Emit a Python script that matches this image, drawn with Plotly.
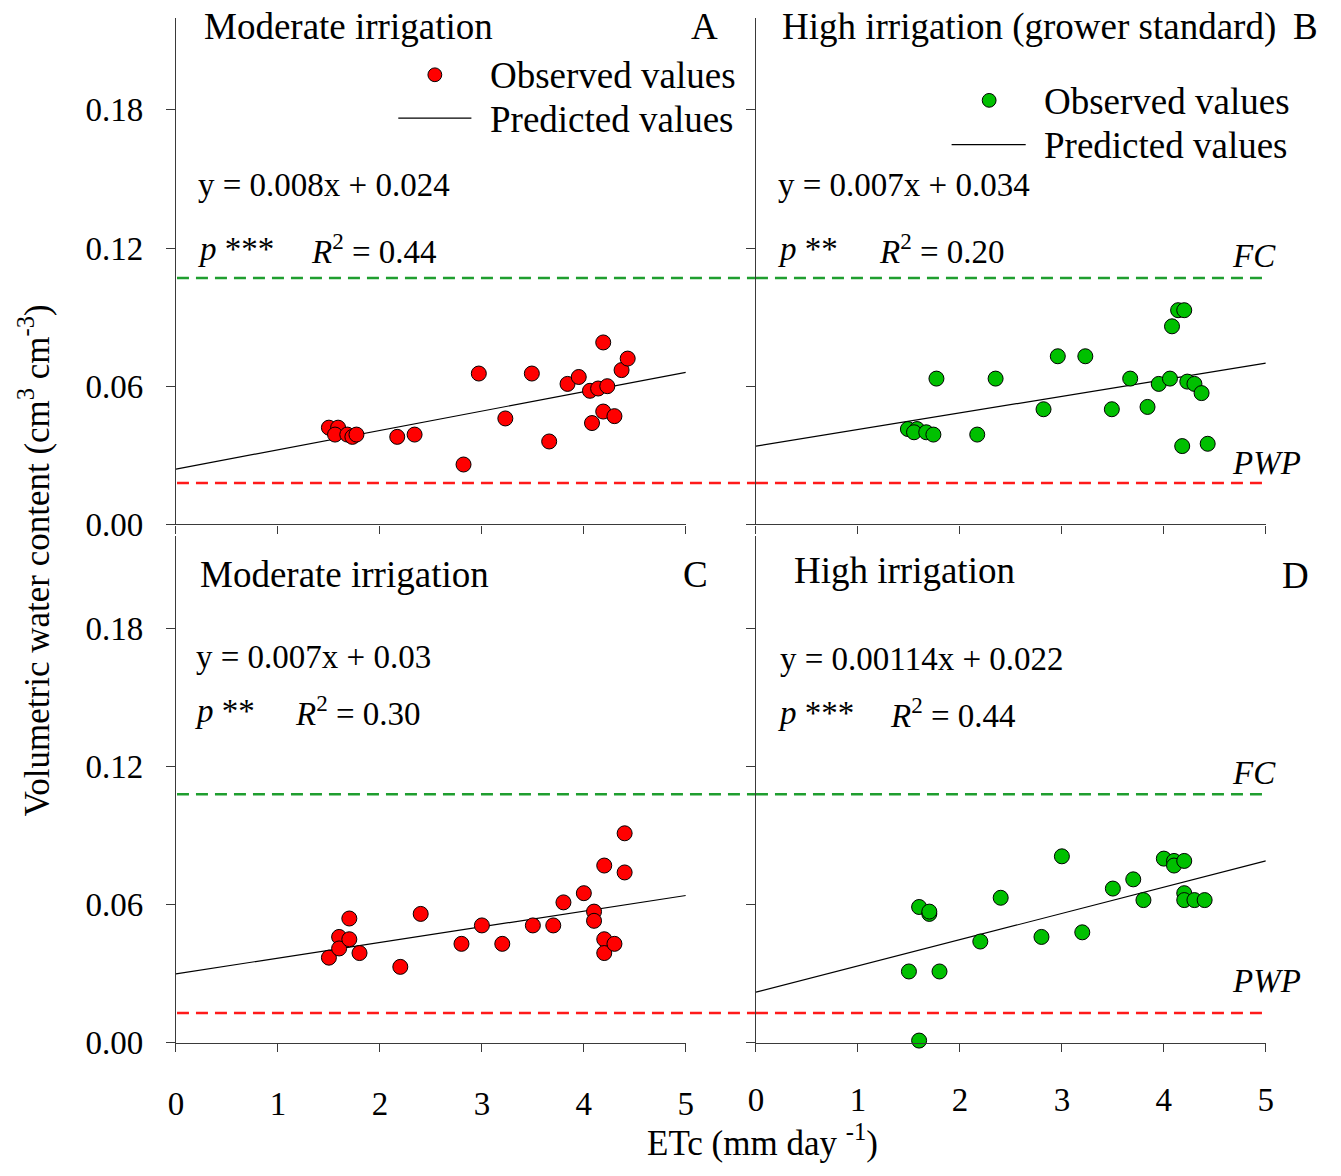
import plotly.graph_objects as go

W, H = 1341, 1176

# ---------------- data ----------------
etc_A = [1.50, 1.59, 1.56, 1.68, 1.73, 1.77, 2.17, 2.34, 2.82, 2.97, 3.23, 3.49,
         3.66, 3.84, 3.95, 4.06, 4.14, 4.23, 4.19, 4.19, 4.08, 4.30, 4.37, 4.43]
vwc_A = [0.042, 0.042, 0.039, 0.039, 0.038, 0.039, 0.038, 0.039, 0.026, 0.0655, 0.046, 0.0655,
         0.036, 0.061, 0.064, 0.058, 0.059, 0.060, 0.079, 0.049, 0.044, 0.047, 0.067, 0.072]

etc_B = [1.49, 1.58, 1.55, 1.67, 1.74, 1.77, 2.17, 2.35, 2.82, 2.96, 3.23, 3.49,
         3.67, 3.84, 3.95, 4.06, 4.08, 4.14, 4.20, 4.23, 4.30, 4.37, 4.18, 4.43]
vwc_B = [0.0414, 0.0414, 0.040, 0.040, 0.039, 0.0633, 0.039, 0.0633, 0.050, 0.073, 0.073, 0.050,
         0.0633, 0.051, 0.061, 0.0633, 0.086, 0.093, 0.093, 0.062, 0.061, 0.057, 0.034, 0.035]

etc_C = [1.50, 1.60, 1.60, 1.70, 1.70, 1.80, 2.20, 2.40, 2.80, 3.00, 3.20, 3.50,
         3.70, 3.80, 4.00, 4.10, 4.10, 4.20, 4.20, 4.20, 4.30, 4.40, 4.40]
vwc_C = [0.037, 0.046, 0.041, 0.054, 0.045, 0.039, 0.033, 0.056, 0.043, 0.051, 0.043, 0.051,
         0.051, 0.061, 0.065, 0.057, 0.053, 0.077, 0.045, 0.039, 0.043, 0.091, 0.074]

etc_D = [1.50, 1.60, 1.70, 1.70, 1.80, 1.60, 2.20, 2.40, 2.80, 3.00, 3.20, 3.50,
         3.70, 3.80, 4.00, 4.10, 4.10, 4.20, 4.20, 4.20, 4.30, 4.40]
vwc_D = [0.031, 0.059, 0.056, 0.057, 0.031, 0.001, 0.044, 0.063, 0.046, 0.081, 0.048, 0.067,
         0.071, 0.062, 0.080, 0.079, 0.077, 0.079, 0.065, 0.062, 0.062, 0.062]

etc_line = [0, 5]
pred_A = [0.024, 0.066]
pred_B = [0.034, 0.070]
pred_C = [0.030, 0.064]
pred_D = [0.022, 0.079]

fc_top, pwp_top = 0.107, 0.018
fc_bot, pwp_bot = 0.108, 0.013

x_ticks = [0, 1, 2, 3, 4, 5]
y_ticks = [0, 0.06, 0.12, 0.18]
y_ticktext = ["0.00", "0.06", "0.12", "0.18"]

# ---------------- layout helpers ----------------
def px(x):
    return x / W

def py(y):
    return 1 - y / H

FONT = "Liberation Serif"
RED = "#ff0000"
GREEN = "#00c000"
DASH_GREEN = "#1f9e2f"
DASH_RED = "#ff1a1a"
AXC = "#3a3a3a"

fig = go.Figure()

panels = [
    ("A", "x", "y", etc_A, vwc_A, pred_A, RED, fc_top, pwp_top, "x5"),
    ("B", "x2", "y2", etc_B, vwc_B, pred_B, GREEN, fc_top, pwp_top, None),
    ("C", "x3", "y3", etc_C, vwc_C, pred_C, RED, fc_bot, pwp_bot, "x6"),
    ("D", "x4", "y4", etc_D, vwc_D, pred_D, GREEN, fc_bot, pwp_bot, None),
]

for name, xa, ya, ex, vy, pr, col, fc, pwp, guide in panels:
    if guide is None:
        gx, gref = etc_line, xa
    else:
        gx, gref = [0, 1], guide
    fig.add_trace(go.Scatter(x=gx, y=[fc, fc], mode="lines", xaxis=gref, yaxis=ya,
                             line=dict(color=DASH_GREEN, width=2.5, dash="12px,7px"),
                             showlegend=False, hoverinfo="skip"))
    fig.add_trace(go.Scatter(x=gx, y=[pwp, pwp], mode="lines", xaxis=gref, yaxis=ya,
                             line=dict(color=DASH_RED, width=2.5, dash="12px,7px"),
                             showlegend=False, hoverinfo="skip"))
    fig.add_trace(go.Scatter(x=etc_line, y=pr, mode="lines", xaxis=xa, yaxis=ya,
                             line=dict(color="black", width=1.2), showlegend=False))
    fig.add_trace(go.Scatter(x=ex, y=vy, mode="markers", xaxis=xa, yaxis=ya,
                             marker=dict(size=15, color=col, line=dict(color="black", width=1)),
                             cliponaxis=False, showlegend=False))

xdomL = [px(170), px(686)]
xdomR = [px(757), px(1273)]
ydomT = [py(533), py(18)]
ydomB = [py(1060), py(545)]

def xaxis(domain, anchor, labels, standoff=22):
    return dict(domain=domain, anchor=anchor, range=[0, 5], tickvals=x_ticks,
                showticklabels=labels, ticks="outside", ticklen=8, tickwidth=1.3,
                tickcolor=AXC, showline=True, linecolor=AXC, linewidth=1.3,
                showgrid=False, zeroline=False, ticklabelstandoff=standoff,
                tickfont=dict(family=FONT, size=33, color="black"))

def yaxis(domain, anchor, labels):
    return dict(domain=domain, anchor=anchor, range=[0, 0.22], tickvals=y_ticks,
                ticktext=y_ticktext, showticklabels=labels, ticks="outside", ticklen=9,
                tickwidth=1.3, tickcolor=AXC, showline=True, linecolor=AXC, linewidth=1.3,
                showgrid=False, zeroline=False, ticklabelstandoff=16,
                tickfont=dict(family=FONT, size=33, color="black"))

fig.update_layout(
    width=W, height=H, margin=dict(l=0, r=0, t=0, b=0),
    paper_bgcolor="white", plot_bgcolor="rgba(0,0,0,0)",
    xaxis=xaxis(xdomL, "y", False),
    xaxis2=xaxis(xdomR, "y2", False),
    xaxis3=xaxis(xdomL, "y3", True, 23),
    xaxis4=xaxis(xdomR, "y4", True, 19),
    yaxis=yaxis(ydomT, "x", True),
    yaxis2=yaxis(ydomT, "x2", False),
    yaxis3=yaxis(ydomB, "x3", True),
    yaxis4=yaxis(ydomB, "x4", False),
    xaxis5=dict(domain=[px(171), px(756)], anchor="y", range=[0, 1], visible=False),
    xaxis6=dict(domain=[px(171), px(756)], anchor="y3", range=[0, 1], visible=False),
    showlegend=False,
)

ann = []

def text(x, y, s, size=37, xanchor="left", italic=False):
    if italic:
        s = "<i>" + s + "</i>"
    ann.append(dict(x=px(x), y=py(y), xref="paper", yref="paper", text=s, showarrow=False,
                    xanchor=xanchor, yanchor="middle",
                    font=dict(family=FONT, size=size, color="black")))

R2 = "<i>R</i><sup>2</sup> = "

# Panel A
text(196, 27, "Moderate irrigation")
text(705, 27, "A", xanchor="center")
text(486, 77, "Observed values")
text(486, 121, "Predicted values")
text(190, 188, "y = 0.008x + 0.024", size=33)
text(190, 253, "<i>p</i> ***", size=33)
text(305, 253, R2 + "0.44", size=33)

# Panel B
text(781, 27, "High irrigation (grower standard)")
text(1313, 27, "B", xanchor="center")
text(1046, 103, "Observed values")
text(1046, 148, "Predicted values")
text(777, 188, "y = 0.007x + 0.034", size=33)
text(777, 253, "<i>p</i> **", size=33)
text(879, 253, R2 + "0.20", size=33)
text(1237, 260, "FC", size=33, italic=True)
text(1237, 471, "PWP", size=33, italic=True)

# Panel C
text(192, 584, "Moderate irrigation")
text(696, 584, "C", xanchor="center")
text(188, 668, "y = 0.007x + 0.03", size=33)
text(187, 723, "<i>p</i> **", size=33)
text(288, 723, R2 + "0.30", size=33)

# Panel D
text(793, 580, "High irrigation")
text(1303, 585, "D", xanchor="center")
text(779, 670, "y = 0.00114x + 0.022", size=33)
text(777, 725, "<i>p</i> ***", size=33)
text(891, 725, R2 + "0.44", size=33)
text(1237, 786, "FC", size=33, italic=True)
text(1237, 997, "PWP", size=33, italic=True)

# axis titles
ann.append(dict(x=px(27), y=py(570), xref="paper", yref="paper", showarrow=False,
                text="Volumetric water content (cm<sup>3</sup> cm<sup>-3</sup>)", textangle=-90,
                xanchor="center", yanchor="middle",
                font=dict(family=FONT, size=35, color="black")))
ann.append(dict(x=px(764), y=py(1159), xref="paper", yref="paper", showarrow=False,
                text="ETc (mm day <sup>-1</sup>)", xanchor="center", yanchor="middle",
                font=dict(family=FONT, size=35, color="black")))

fig.update_layout(annotations=ann)

# legend swatches (panels A and B)
shapes = [
    dict(type="circle", xref="paper", yref="paper", x0=px(425), x1=px(439), y0=py(69), y1=py(83),
         fillcolor=RED, line=dict(color="black", width=1)),
    dict(type="line", xref="paper", yref="paper", x0=px(395), x1=px(469), y0=py(120), y1=py(120),
         line=dict(color="black", width=1.2)),
    dict(type="circle", xref="paper", yref="paper", x0=px(986), x1=px(1000), y0=py(95), y1=py(109),
         fillcolor=GREEN, line=dict(color="black", width=1)),
    dict(type="line", xref="paper", yref="paper", x0=px(955), x1=px(1030), y0=py(147), y1=py(147),
         line=dict(color="black", width=1.2)),
]
fig.update_layout(shapes=shapes)

fig.write_html("out.html")
